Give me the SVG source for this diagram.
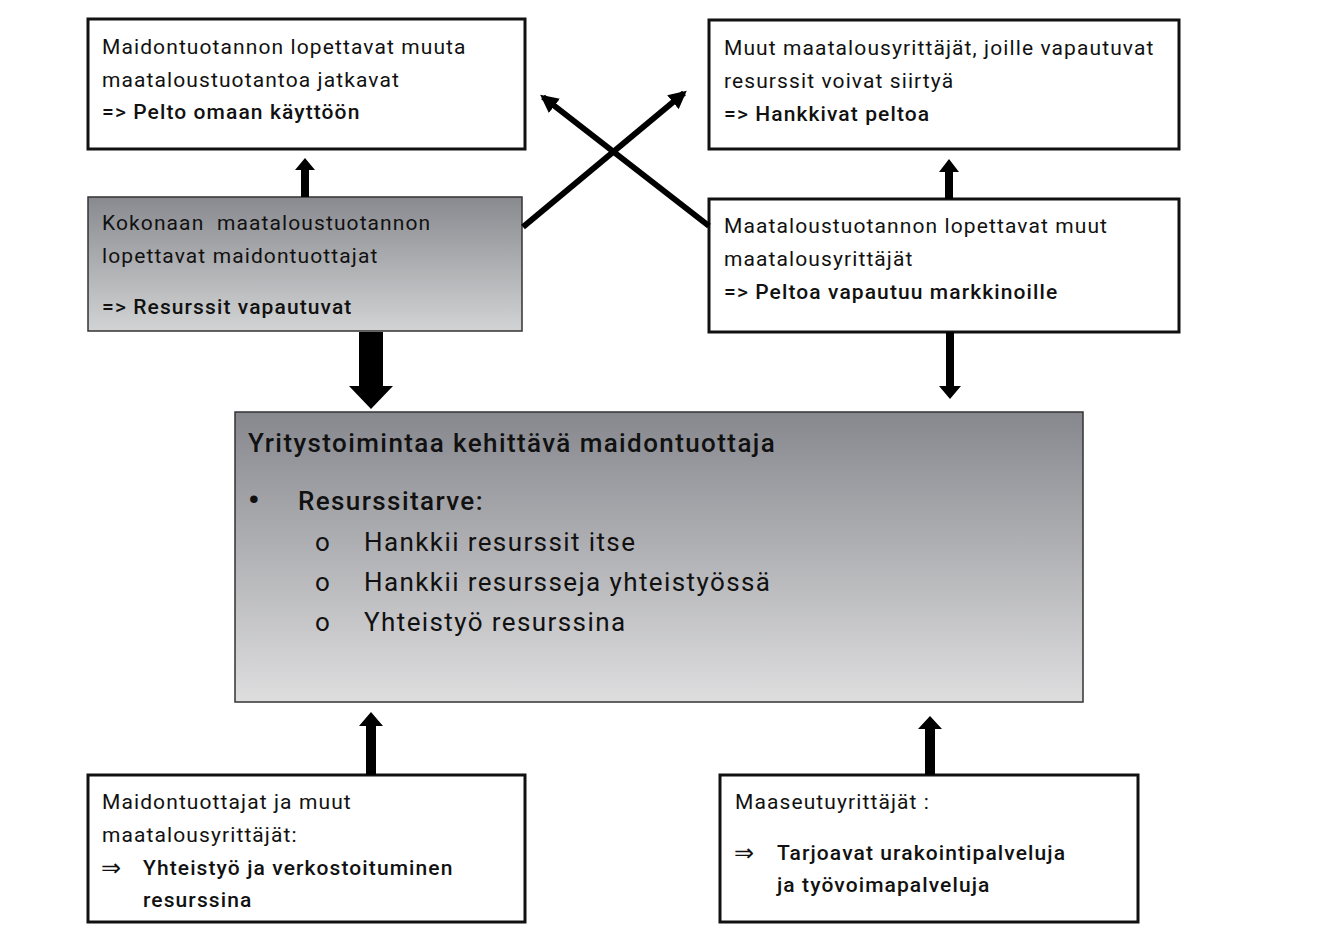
<svg xmlns="http://www.w3.org/2000/svg" width="1318" height="952" viewBox="0 0 1318 952">
<defs>
<linearGradient id="g1" x1="0" y1="0" x2="0" y2="1">
<stop offset="0" stop-color="#898a8f"/>
<stop offset="1" stop-color="#d2d3d4"/>
</linearGradient>
<linearGradient id="g2" x1="0" y1="0" x2="0" y2="1">
<stop offset="0" stop-color="#87888e"/>
<stop offset="1" stop-color="#dededf"/>
</linearGradient>
<marker id="ah" viewBox="0 0 10 10" refX="8" refY="5" markerWidth="3" markerHeight="3" orient="auto" markerUnits="strokeWidth">
<path d="M0,0 L10,5 L0,10 z" fill="#000"/>
</marker>
</defs>
<style>
.box{fill:#fff;stroke:#111;stroke-width:3}
.gbox{stroke:#333;stroke-width:1.5}
text{font-family:Roboto,"Liberation Sans",sans-serif;fill:#111}
.t{font-size:21px;font-weight:400;letter-spacing:1.1px}
.b{font-size:21px;font-weight:500;letter-spacing:1.1px}
.m{font-size:26px;letter-spacing:1.4px}
.line{stroke:#000;stroke-width:6;fill:none}
.arr{fill:#000}
</style>
<rect width="1318" height="952" fill="#fff"/>
<g id="n1">
<rect class="box" x="88" y="19" width="437" height="130"/>
<text class="t" x="102" y="54">Maidontuotannon lopettavat muuta</text>
<text class="t" x="102" y="87">maataloustuotantoa jatkavat</text>
<text class="b" x="102" y="119">=&gt; Pelto omaan käyttöön</text>
</g>
<g id="n2">
<rect class="box" x="709" y="20" width="470" height="129"/>
<text class="t" x="724" y="55">Muut maatalousyrittäjät, joille vapautuvat</text>
<text class="t" x="724" y="88">resurssit voivat siirtyä</text>
<text class="b" x="724" y="121">=&gt; Hankkivat peltoa</text>
</g>
<g id="n3">
<rect class="gbox" x="88" y="197" width="434" height="134" fill="url(#g1)"/>
<text class="t" x="102" y="230" style="white-space:pre">Kokonaan  maataloustuotannon</text>
<text class="t" x="102" y="263">lopettavat maidontuottajat</text>
<text class="b" x="102" y="314">=&gt; Resurssit vapautuvat</text>
</g>
<g id="n4">
<rect class="box" x="709" y="199" width="470" height="133"/>
<text class="t" x="724" y="233">Maataloustuotannon lopettavat muut</text>
<text class="t" x="724" y="266">maatalousyrittäjät</text>
<text class="b" x="724" y="299">=&gt; Peltoa vapautuu markkinoille</text>
</g>
<g id="main">
<rect class="gbox" x="235" y="412" width="848" height="290" fill="url(#g2)"/>
<text class="m" x="248" y="452" font-weight="500">Yritystoimintaa kehittävä maidontuottaja</text>
<text x="248" y="511" font-size="32" font-weight="700">•</text>
<text class="m" x="298" y="510" font-weight="500">Resurssitarve:</text>
<text class="m" x="315" y="551">o</text>
<text class="m" x="364" y="551">Hankkii resurssit itse</text>
<text class="m" x="315" y="591">o</text>
<text class="m" x="364" y="591">Hankkii resursseja yhteistyössä</text>
<text class="m" x="315" y="631">o</text>
<text class="m" x="364" y="631">Yhteistyö resurssina</text>
</g>
<g id="n5">
<rect class="box" x="88" y="775" width="437" height="147"/>
<text class="t" x="102" y="809">Maidontuottajat ja muut</text>
<text class="t" x="102" y="842">maatalousyrittäjät:</text>
<text x="101" y="876" font-size="24">⇒</text>
<text class="b" x="143" y="875">Yhteistyö ja verkostoituminen</text>
<text class="b" x="143" y="907">resurssina</text>
</g>
<g id="n6">
<rect class="box" x="720" y="775" width="418" height="147"/>
<text class="t" x="735" y="809">Maaseutuyrittäjät :</text>
<text x="734" y="861" font-size="24">⇒</text>
<text class="b" x="777" y="860">Tarjoavat urakointipalveluja</text>
<text class="b" x="777" y="892">ja työvoimapalveluja</text>
</g>
<g id="connectors">
<path class="arr" d="M301,197 L301,170 L295,170 L305,158 L315,170 L309,170 L309,197 z"/>
<path class="arr" d="M945,199 L945,172 L939,172 L949,159 L959,172 L953,172 L953,199 z"/>
<path class="arr" d="M359,332 L359,386 L349,386 L371,409 L393,386 L383,386 L383,332 z"/>
<path class="arr" d="M946,332 L946,386 L939,386 L950,399 L961,386 L954,386 L954,332 z"/>
<path class="arr" d="M366,775 L366,726 L359,726 L371,712 L383,726 L376,726 L376,775 z"/>
<path class="arr" d="M925,775 L925,729 L918,729 L930,716 L942,729 L935,729 L935,775 z"/>
<line class="line" x1="523" y1="227" x2="684" y2="93" marker-end="url(#ah)"/>
<line class="line" x1="709" y1="226" x2="543" y2="97" marker-end="url(#ah)"/>
</g>
</svg>
